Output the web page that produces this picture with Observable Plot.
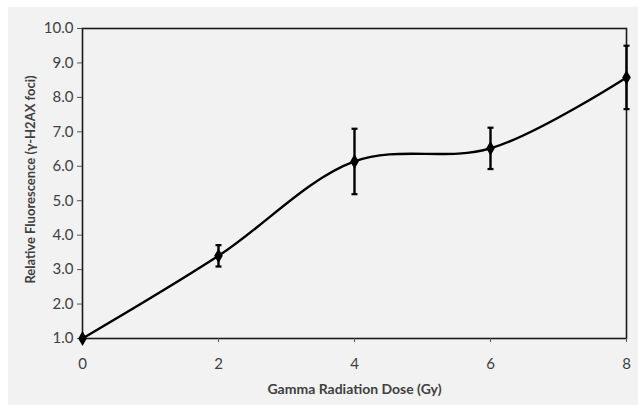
<!DOCTYPE html>
<html>
<head>
<meta charset="utf-8">
<script src="https://cdn.jsdelivr.net/npm/d3@7"></script>
<script src="https://cdn.jsdelivr.net/npm/@observablehq/plot@0.6"></script>
<style>
  html, body { margin: 0; padding: 0; background: #ffffff; }
  #wrap { width: 638px; height: 405px; box-sizing: border-box; padding: 7px 0 0 8px; background: #ffffff; }
  #wrap svg { display: block; background: #f2f2f2; }
</style>
</head>
<body>
<div id="wrap"></div>
<script>
const doses = [0, 2, 4, 6, 8];
const fluorescence = [1.0, 3.40, 6.14, 6.52, 8.58];
const errors = [0, 0.31, 0.95, 0.60, 0.92];
const yTicks = [1, 2, 3, 4, 5, 6, 7, 8, 9, 10];
const xTicks = [0, 2, 4, 6, 8];

const data = doses.map((d, i) => ({dose: d, value: fluorescence[i], err: errors[i]}));
const bars = data.filter(d => d.err > 0);

const capSymbol = {
  draw(context, size) {
    const w = 3;
    context.moveTo(-w, 0);
    context.lineTo(w, 0);
  }
};

const chart = Plot.plot({
  width: 630,
  height: 398,
  marginLeft: 74,
  marginRight: 12,
  marginTop: 21,
  marginBottom: 67,
  style: {fontFamily: "Lato, 'Open Sans', sans-serif", fontSize: "15px", color: "#404040", background: "#f2f2f2"},
  x: {domain: [0, 8], label: null},
  y: {domain: [1, 10], label: null},
  marks: [
    Plot.frame({stroke: "#1a1a1a", strokeWidth: 1.6}),
    Plot.axisX({ticks: xTicks, tickSize: 4, tickPadding: 16, stroke: "#555", fill: "#404040", label: null}),
    Plot.axisY({ticks: yTicks, tickSize: 5, tickPadding: 4, tickFormat: d3.format(".1f"), stroke: "#555", fill: "#404040", label: null}),
    Plot.line(data, {x: "dose", y: "value", curve: "catmull-rom", stroke: "#000", strokeWidth: 2.4}),
    Plot.ruleX(bars, {x: "dose", y1: d => d.value - d.err, y2: d => d.value + d.err, stroke: "#000", strokeWidth: 2.4}),
    Plot.dot(bars, {x: "dose", y: d => d.value + d.err, symbol: capSymbol, stroke: "#000", strokeWidth: 2.2, r: 3}),
    Plot.dot(bars, {x: "dose", y: d => d.value - d.err, symbol: capSymbol, stroke: "#000", strokeWidth: 2.2, r: 3}),
    Plot.dot(data, {x: "dose", y: "value", symbol: "diamond", fill: "#000", r: 4.5}),
    Plot.text(["Gamma Radiation Dose (Gy)"], {frameAnchor: "bottom", dy: 55, text: d => d, fontWeight: "bold", fontSize: 14, fill: "#404040"}),
    Plot.text(["Relative Fluorescence (\u03B3-H2AX foci)"], {frameAnchor: "left", textAnchor: "middle", dx: -52, dy: -4, rotate: -90, text: d => d, fontWeight: "bold", fontSize: 13, fill: "#404040"})
  ]
});
d3.select(chart).selectAll("text").each(function() {
  if (/^\d+(\.\d)?$/.test(this.textContent.trim())) {
    this.style.fontSize = "15px";
  }
});
document.getElementById("wrap").appendChild(chart);
</script>
</body>
</html>
